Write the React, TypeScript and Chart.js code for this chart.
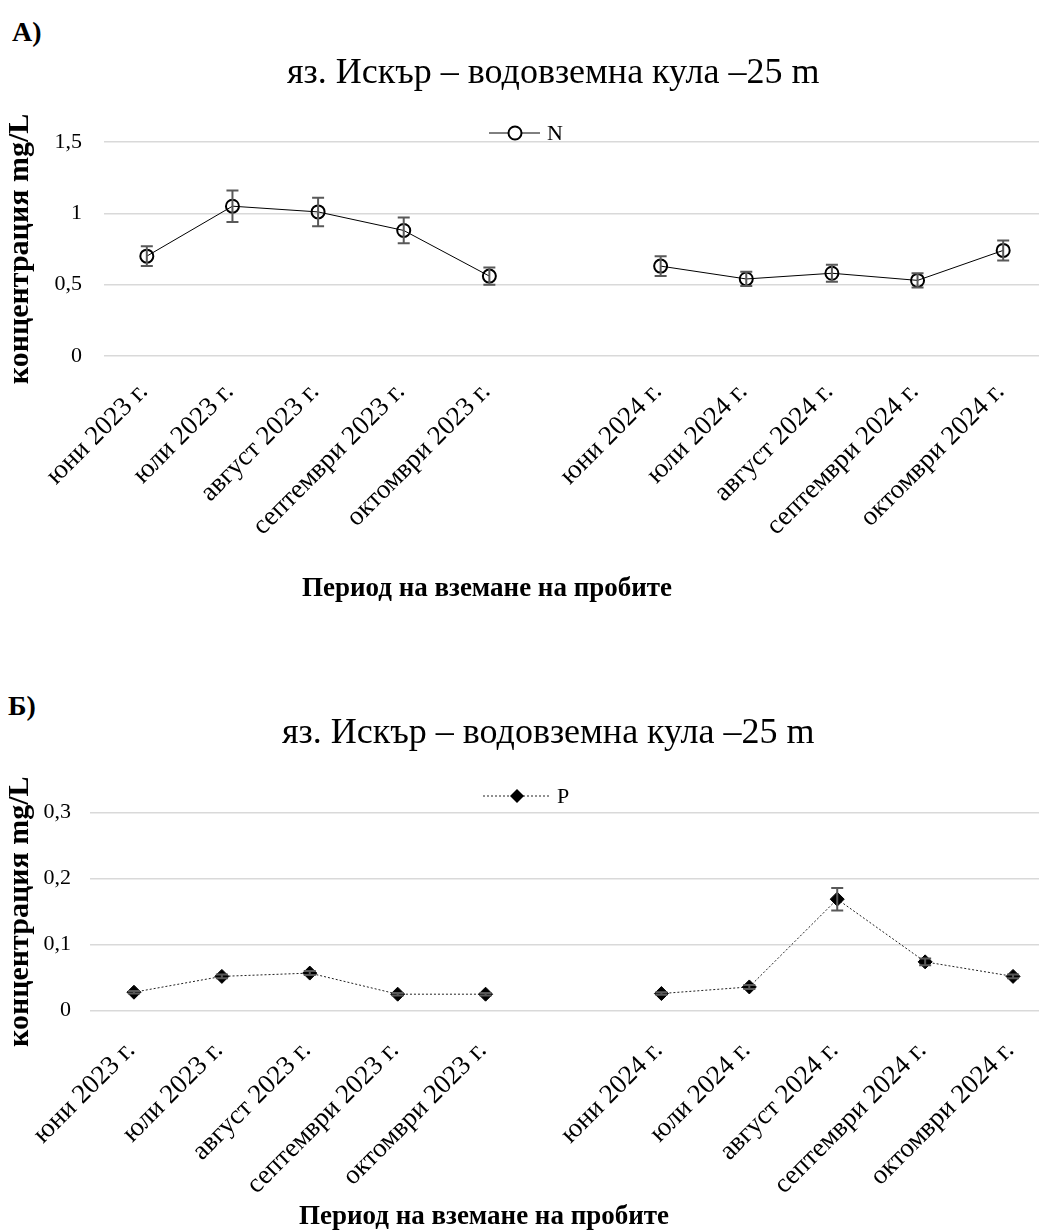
import React, { useEffect, useRef } from 'react';
import { Chart, registerables } from 'chart.js';

Chart.register(...registerables);

// ---------------- data ----------------
const categories = [
  'юни 2023 г.', 'юли 2023 г.', 'август 2023 г.', 'септември 2023 г.', 'октомври 2023 г.',
  '',
  'юни 2024 г.', 'юли 2024 г.', 'август 2024 г.', 'септември 2024 г.', 'октомври 2024 г.',
];
const nValues = [0.70, 1.05, 1.01, 0.88, 0.56, null, 0.63, 0.54, 0.58, 0.53, 0.74];
const nErrors = [0.07, 0.11, 0.10, 0.09, 0.06, null, 0.07, 0.05, 0.06, 0.05, 0.07];
const pValues = [0.028, 0.052, 0.057, 0.025, 0.025, null, 0.026, 0.036, 0.169, 0.074, 0.052];
const pErrors = [0.002, 0.003, 0.003, 0.002, 0.002, null, 0.002, 0.003, 0.017, 0.005, 0.003];
const nTicks = { min: 0, max: 1.5, step: 0.5 };
const pTicks = { min: 0, max: 0.3, step: 0.1 };
const chartTitle = 'яз. Искър – водовземна кула –25 m';
const yTitle = 'концентрация mg/L';
const xTitle = 'Период на вземане на пробите';

const FONT = "'Liberation Serif', 'Times New Roman', serif";

const fmt = (v: number) => String(Number(v.toFixed(2))).replace('.', ',');

// error bars drawn from values via the y scale
const errorBarPlugin = {
  id: 'errorBars',
  afterDatasetsDraw(chart: any, _args: any, opts: any) {
    if (!opts || !opts.errors) return;
    const { ctx } = chart;
    const y = chart.scales.y;
    const meta = chart.getDatasetMeta(0);
    const values = chart.data.datasets[0].data;
    ctx.save();
    ctx.strokeStyle = opts.color;
    ctx.lineWidth = opts.width;
    meta.data.forEach((pt: any, i: number) => {
      const v = values[i];
      const e = opts.errors[i];
      if (v == null || e == null) return;
      const x = pt.x;
      const yt = y.getPixelForValue(v + e);
      const yb = y.getPixelForValue(v - e);
      const c = opts.cap / 2;
      ctx.beginPath();
      ctx.moveTo(x, yt); ctx.lineTo(x, yb);
      ctx.moveTo(x - c, yt); ctx.lineTo(x + c, yt);
      ctx.moveTo(x - c, yb); ctx.lineTo(x + c, yb);
      ctx.stroke();
    });
    ctx.restore();
  },
};

// chart title, legend (line + marker + label) and x axis title
const decorPlugin = {
  id: 'decor',
  afterDraw(chart: any, _args: any, opts: any) {
    const { ctx } = chart;
    const ds = chart.data.datasets[0];
    ctx.save();
    // title
    const TT = opts.title;
    ctx.fillStyle = '#000';
    ctx.font = `${TT.size}px ${FONT}`;
    ctx.textAlign = 'left';
    ctx.textBaseline = 'alphabetic';
    ctx.fillText(TT.text, TT.x, TT.y);
    // legend
    const L = opts.legend;
    ctx.strokeStyle = ds.borderColor;
    ctx.lineWidth = ds.borderWidth;
    ctx.setLineDash(ds.borderDash || []);
    ctx.beginPath();
    ctx.moveTo(L.x1, L.y); ctx.lineTo(L.x2, L.y);
    ctx.stroke();
    ctx.setLineDash([]);
    const r = L.r;
    ctx.beginPath();
    if (ds.pointStyle === 'rectRot') {
      ctx.moveTo(L.mx - r, L.y); ctx.lineTo(L.mx, L.y - r);
      ctx.lineTo(L.mx + r, L.y); ctx.lineTo(L.mx, L.y + r); ctx.closePath();
      ctx.fillStyle = ds.pointBackgroundColor;
      ctx.fill();
    } else {
      ctx.arc(L.mx, L.y, r, 0, Math.PI * 2);
      ctx.fillStyle = '#fff';
      ctx.fill();
      ctx.strokeStyle = ds.pointBorderColor;
      ctx.lineWidth = ds.pointBorderWidth;
      ctx.stroke();
    }
    ctx.fillStyle = '#000';
    ctx.font = `22px ${FONT}`;
    ctx.textAlign = 'left';
    ctx.textBaseline = 'middle';
    ctx.fillText(ds.label, L.tx, L.y + 1);
    // x axis title
    const T = opts.xTitle;
    ctx.font = `bold ${T.size}px ${FONT}`;
    ctx.textAlign = 'center';
    ctx.textBaseline = 'middle';
    ctx.fillText(T.text, T.x, T.y);
    ctx.restore();
  },
};

function makeConfig(p: any) {
  return {
    type: 'line',
    data: {
      labels: categories,
      datasets: [p.dataset],
    },
    options: {
      responsive: false,
      animation: false,
      events: [],
      layout: { padding: { left: 0, right: p.padRight, top: p.padTop, bottom: p.padBottom } },
      plugins: {
        legend: { display: false },
        tooltip: { enabled: false },
        title: { display: false },
        errorBars: { errors: p.errors, color: '#595959', width: 2, cap: 12 },
        decor: {
          title: { text: chartTitle, size: 36, x: p.titleX, y: p.titleY },
          legend: p.legend,
          xTitle: { text: xTitle, size: 27, x: p.xTitleX, y: p.xTitleY },
        },
      },
      scales: {
        x: {
          type: 'category',
          offset: true,
          grid: { display: false, drawTicks: false },
          border: { display: false },
          ticks: {
            color: '#000',
            font: { family: FONT, size: 27 },
            minRotation: 45,
            maxRotation: 45,
            autoSkip: false,
            padding: p.xTickPad,
            labelOffset: p.labelOffset,
          },
          afterFit: (s: any) => { s.height = p.xAxisH; },
        },
        y: {
          min: p.ticks.min,
          max: p.ticks.max,
          grid: { color: '#d9d9d9', lineWidth: 1.5, drawTicks: false },
          border: { display: false },
          ticks: {
            stepSize: p.ticks.step,
            color: '#000',
            font: { family: FONT, size: 22 },
            padding: p.yTickPad,
            callback: (v: any) => fmt(Number(v)),
          },
          title: {
            display: true,
            text: yTitle,
            color: '#000',
            font: { family: FONT, size: 30, weight: 'bold', lineHeight: 1.2 },
            padding: { top: 2, bottom: 0 },
          },
          afterFit: (s: any) => { s.width = p.yAxisW; },
        },
      },
    },
    plugins: [errorBarPlugin, decorPlugin],
  };
}

const W = 1130;

function ChartCanvas({ config, height, top }: { config: any; height: number; top: number }) {
  const ref = useRef<HTMLCanvasElement | null>(null);
  useEffect(() => {
    if (!ref.current) return;
    const c = new Chart(ref.current, config);
    return () => c.destroy();
  }, []);
  return (
    <canvas
      ref={ref}
      width={W}
      height={height}
      style={{ position: 'absolute', left: 0, top, width: W, height }}
    />
  );
}

const configA = makeConfig({
  dataset: {
    label: 'N',
    data: nValues,
    borderColor: '#000',
    borderWidth: 1,
    pointStyle: 'circle',
    pointRadius: 6.5,
    pointBorderWidth: 2,
    pointBorderColor: '#000',
    pointBackgroundColor: 'rgba(0,0,0,0)',
    spanGaps: false,
    tension: 0,
  },
  errors: nErrors,
  ticks: nTicks,
  padRight: W - 1046,
  padTop: 142,
  padBottom: 620 - 356 - 200,
  xAxisH: 200,
  titleX: 287,
  titleY: 83,
  yAxisW: 104,
  yTickPad: 22,
  xTickPad: 20,
  labelOffset: -3,
  legend: { x1: 489, x2: 540, mx: 515, y: 133, r: 6.5, tx: 547 },
  xTitleX: 487,
  xTitleY: 589,
});

const configB = makeConfig({
  dataset: {
    label: 'P',
    data: pValues,
    borderColor: '#222',
    borderWidth: 1,
    borderDash: [2, 2],
    pointStyle: 'rectRot',
    pointRadius: 7,
    pointBorderWidth: 1,
    pointBorderColor: '#000',
    pointBackgroundColor: '#000',
    spanGaps: false,
    tension: 0,
  },
  errors: pErrors,
  ticks: pTicks,
  padRight: W - 1057,
  padTop: 192.7,
  padBottom: 610 - 390.7 - 200,
  xAxisH: 200,
  titleX: 282,
  titleY: 743 - 620,
  yAxisW: 90,
  yTickPad: 19,
  xTickPad: 24,
  labelOffset: -3,
  legend: { x1: 483, x2: 550, mx: 517, y: 176, r: 7, tx: 557 },
  xTitleX: 484,
  xTitleY: 597,
});

export default function App() {
  return (
    <div
      style={{
        position: 'absolute', left: 0, top: 0, width: 1039, height: 1230,
        overflow: 'hidden', background: '#fff',
      }}
    >
      <div style={{ position: 'absolute', left: 12, top: 18, font: `bold 28px/1 ${FONT}`, color: '#000' }}>A)</div>
      <ChartCanvas config={configA} height={620} top={0} />
      <div style={{ position: 'absolute', left: 8, top: 692, font: `bold 28px/1 ${FONT}`, color: '#000' }}>Б)</div>
      <ChartCanvas config={configB} height={610} top={620} />
    </div>
  );
}
